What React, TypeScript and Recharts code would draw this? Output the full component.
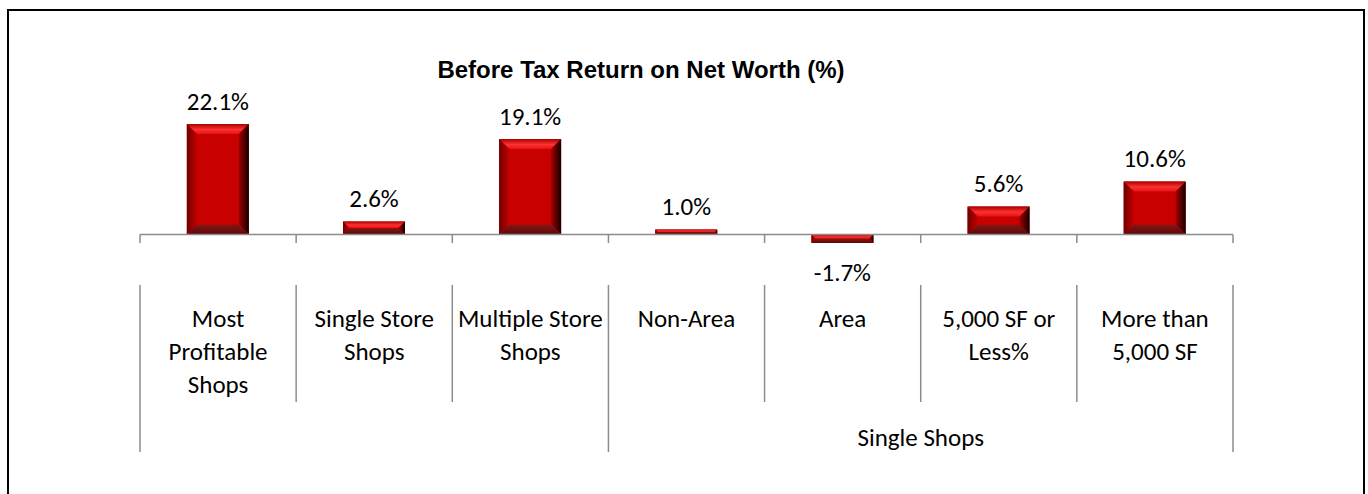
import React from 'react';
import { BarChart, Bar, XAxis, YAxis, ReferenceLine, LabelList } from 'recharts';

// category names (\n marks where the label wraps)
const categories = [
  'Most\nProfitable\nShops',
  'Single Store\nShops',
  'Multiple Store\nShops',
  'Non-Area',
  'Area',
  '5,000 SF or\nLess%',
  'More than\n5,000 SF',
];
const returnPct = [22.1, 2.6, 19.1, 1.0, -1.7, 5.6, 10.6];
// second row of the category axis
const groups = [
  { label: '', size: 3 },
  { label: 'Single Shops', size: 4 },
];

const data = categories.map((name, i) => ({ name, value: returnPct[i] }));

const W = 1368;
const H = 494;
const LEFT = 140;
const RIGHT = 135;
const PLOT_TOP = 109.5;
const Y_MIN = -5;
const Y_MAX = 25;
const PX_PER_UNIT = 5;
const PLOT_H = (Y_MAX - Y_MIN) * PX_PER_UNIT;
const BOTTOM = 14.5;
const AXIS_H = H - PLOT_TOP - PLOT_H - BOTTOM;
const ZERO_ABOVE_AXIS = -Y_MIN * PX_PER_UNIT;
const BAND = (W - LEFT - RIGHT) / categories.length;

const LABEL_FONT = 'Carlito, Calibri, Lato, sans-serif';
const LABEL_SIZE = 25;
const GRID = '#8c8c8c';

const groupStarts: number[] = [];
{
  let acc = 0;
  groups.forEach((g) => {
    groupStarts.push(acc);
    acc += g.size;
  });
}

const BevelBar = (props: any) => {
  const { x, y, width, height } = props;
  if (width == null || height == null) return null;
  const top = Math.min(y, y + height);
  const h = Math.abs(height);
  const w = width;
  const bot = top + h;
  const b = Math.min(10, h / 2, w / 2);
  return (
    <g>
      <rect x={x} y={top} width={w} height={h} fill="#c80000" />
      <polygon
        points={`${x},${top} ${x + w},${top} ${x + w - b},${top + b} ${x + b},${top + b}`}
        fill="url(#bevTop)"
      />
      <polygon
        points={`${x},${top} ${x + b},${top + b} ${x + b},${bot - b} ${x},${bot}`}
        fill="url(#bevLeft)"
      />
      <polygon
        points={`${x + w},${top} ${x + w},${bot} ${x + w - b},${bot - b} ${x + w - b},${top + b}`}
        fill="url(#bevRight)"
      />
      <polygon
        points={`${x},${bot} ${x + b},${bot - b} ${x + w - b},${bot - b} ${x + w},${bot}`}
        fill="url(#bevBottom)"
      />
    </g>
  );
};

const ValueLabel = (props: any) => {
  const { x, y, width, height, value } = props;
  if (value == null) return null;
  const top = Math.min(y, y + height);
  const bot = Math.max(y, y + height);
  const cy = value >= 0 ? top - 23 : bot + 29;
  return (
    <text
      x={x + width / 2}
      y={cy}
      textAnchor="middle"
      dominantBaseline="central"
      fontFamily={LABEL_FONT}
      fontSize={LABEL_SIZE}
      fill="#000"
    >
      {`${Number(value).toFixed(1)}%`}
    </text>
  );
};

const CategoryTick = (props: any) => {
  const { x, y, payload, index } = props;
  const half = payload && payload.offset > 0 ? payload.offset : BAND / 2;
  const zeroY = y - ZERO_ABOVE_AXIS;
  const left = x - half;
  const right = x + half;
  const last = index === categories.length - 1;
  const lines = String(payload.value).split('\n');
  const gIdx = groupStarts.indexOf(index);

  const tickY2 = zeroY + 8.5;
  const divY1 = zeroY + 50.5;
  const divY2 = zeroY + 167.5;
  const grpY2 = zeroY + 217.5;

  return (
    <g>
      <line x1={left} x2={left} y1={zeroY} y2={tickY2} stroke={GRID} strokeWidth={1.5} />
      <line x1={left} x2={left} y1={divY1} y2={divY2} stroke={GRID} strokeWidth={1.5} />
      {last && (
        <>
          <line x1={right} x2={right} y1={zeroY} y2={tickY2} stroke={GRID} strokeWidth={1.5} />
          <line x1={right} x2={right} y1={divY1} y2={grpY2} stroke={GRID} strokeWidth={1.5} />
        </>
      )}
      {gIdx >= 0 && (
        <line x1={left} x2={left} y1={divY2} y2={grpY2} stroke={GRID} strokeWidth={1.5} />
      )}
      {gIdx >= 0 && groups[gIdx].label && (
        <text
          x={left + groups[gIdx].size * half}
          y={zeroY + 202.5}
          textAnchor="middle"
          dominantBaseline="central"
          fontFamily={LABEL_FONT}
          fontSize={LABEL_SIZE}
          fill="#000"
        >
          {groups[gIdx].label}
        </text>
      )}
      {lines.map((ln, i) => (
        <text
          key={i}
          x={x}
          y={zeroY + 83.5 + i * 33}
          textAnchor="middle"
          dominantBaseline="central"
          fontFamily={LABEL_FONT}
          fontSize={LABEL_SIZE}
          fill="#000"
        >
          {ln}
        </text>
      ))}
    </g>
  );
};

export default function App() {
  return (
    <div
      style={{
        position: 'absolute',
        left: 0,
        top: 0,
        width: W,
        height: H,
        overflow: 'hidden',
        background: '#fff',
      }}
    >
      <div
        style={{
          position: 'absolute',
          left: 7,
          top: 9,
          width: 1358,
          height: 520,
          border: '2px solid #000',
          boxSizing: 'border-box',
        }}
      />
      <div
        style={{
          position: 'absolute',
          left: 341,
          top: 58,
          width: 600,
          textAlign: 'center',
          fontFamily: '"Liberation Sans", Arial, sans-serif',
          fontWeight: 'bold',
          fontSize: 24,
          lineHeight: '24px',
          color: '#000',
        }}
      >
        Before Tax Return on Net Worth (%)
      </div>
      <div style={{ position: 'absolute', left: 0, top: 0 }}>
        <BarChart
          width={W}
          height={H}
          data={data}
          margin={{ top: PLOT_TOP, right: RIGHT, bottom: BOTTOM, left: LEFT }}
          barCategoryGap="30%"
        >
          <defs>
            <linearGradient id="bevTop" x1="0" y1="0" x2="0" y2="1">
              <stop offset="0%" stopColor="#a80000" />
              <stop offset="55%" stopColor="#ff3030" />
              <stop offset="100%" stopColor="#e41414" />
            </linearGradient>
            <linearGradient id="bevLeft" x1="0" y1="0" x2="1" y2="0">
              <stop offset="0%" stopColor="#6e0000" />
              <stop offset="100%" stopColor="#c00000" />
            </linearGradient>
            <linearGradient id="bevRight" x1="0" y1="0" x2="1" y2="0">
              <stop offset="0%" stopColor="#a00000" />
              <stop offset="100%" stopColor="#140000" />
            </linearGradient>
            <linearGradient id="bevBottom" x1="0" y1="0" x2="0" y2="1">
              <stop offset="0%" stopColor="#8a1414" />
              <stop offset="100%" stopColor="#5a0808" />
            </linearGradient>
          </defs>
          <XAxis
            dataKey="name"
            axisLine={false}
            tickLine={false}
            tickSize={0}
            tickMargin={0}
            height={AXIS_H}
            interval={0}
            tick={<CategoryTick />}
          />
          <YAxis hide domain={[Y_MIN, Y_MAX]} tickCount={7} />
          <ReferenceLine y={0} stroke={GRID} strokeWidth={1.5} />
          <Bar dataKey="value" isAnimationActive={false} shape={<BevelBar />}>
            <LabelList dataKey="value" content={<ValueLabel />} />
          </Bar>
        </BarChart>
      </div>
    </div>
  );
}
